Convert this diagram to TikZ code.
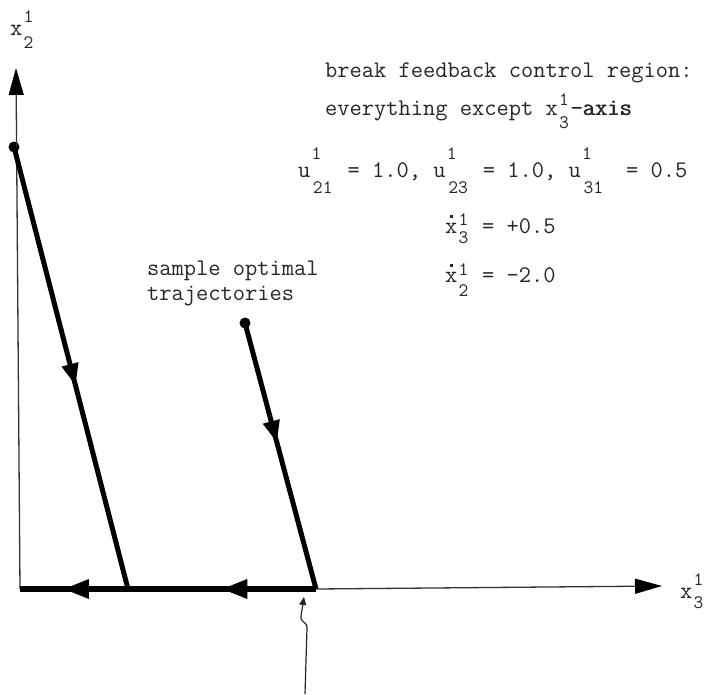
\documentclass[tikz,border=0pt]{standalone}
\usepackage{fontspec}
\usetikzlibrary{arrows.meta,decorations.markings}
\newlength\tw
\setlength\tw{12.495pt}
\newcommand\scr{\fontsize{19}{19}\selectfont}
\newcommand\ssc[5]{\makebox[0pt][l]{\makebox[\tw][c]{\raisebox{#3}{\scr #1}}}\makebox[#5\tw][c]{\raisebox{-#4}{\scr #2}}}
\newcommand\xd[1]{\makebox[0pt][l]{\hspace{5.3pt}\raisebox{#1}{\rule{2.6pt}{2.6pt}}}x}
\newcommand\fb[1]{\makebox[0pt][l]{\hspace{0.7pt}#1}#1}
\begin{document}
\begin{tikzpicture}[x=1pt,y=-1pt,
  every node/.style={inner sep=0pt,outer sep=0pt},
  txt/.style={anchor=base west,font=\fontsize{23.8}{28}\selectfont\ttfamily,text=black!85},
  axisline/.style={line width=1.3pt,draw=black!80},
  trajline/.style={line width=5pt,draw=black},
  dotnode/.style={circle,fill=black,minimum size=11pt},
  bighead/.style={-{Triangle[length=27pt,width=15pt,color=black]}},
  midarrow/.style={postaction={decorate},decoration={markings,
     mark=at position #1 with {\arrow{Triangle[length=22pt,width=16pt]}}}},
]
\useasboundingbox (0,0) rectangle (712,694);
\fill[white] (0,0) rectangle (712,694);

% coordinates
\coordinate (O) at (20,589);
\coordinate (Ytop) at (16,68);
\coordinate (Xtip) at (662,586);
\coordinate (F1) at (128,589);
\coordinate (F2) at (316,589);
\node[dotnode] (S1) at (14,147) {};
\node[dotnode] (S2) at (245,323) {};

% axes
\draw[axisline,bighead] (O) -- (Ytop);
\draw[axisline,bighead] (F2) -- (Xtip);

% trajectories
\draw[trajline,midarrow=0.54] (S1.center) -- (F1);
\draw[trajline,midarrow=0.45] (S2.center) -- (F2);
\draw[line width=6pt,postaction={decorate},decoration={markings,
   mark=at position 0.32 with {\arrow{Triangle[length=26pt,width=18pt]}},
   mark=at position 0.855 with {\arrow{Triangle[length=26pt,width=18pt]}}}]
   (F2) -- (O);

% pointer
\coordinate (P0) at (305,694);
\coordinate (P1) at (307,628);
\coordinate (P2) at (301,616);
\coordinate (Ptip) at (304,597);
\draw[line width=1.2pt,black!85,-{Triangle[length=8pt,width=7pt]}]
   (P0) -- (P1) .. controls (307,621) and (300,623) .. (P2) -- (Ptip);

% labels
\node[txt] (xlab2) at (10,35) {x\ssc{1}{2}{13pt}{13pt}{1}};
\node[txt] (xlab3) at (680,598) {x\ssc{1}{3}{13pt}{10pt}{1}};

\node[txt] (l1) at (325,77) {break feedback control region:};
\node[txt] (l2) at (325,115) {everything except x\ssc{1}{3}{10pt}{13pt}{1}\fb{-axis}};
\node[txt] (l3) at (298,177) {u\ssc{1}{21}{18pt}{16pt}{2} = 1.0, u\ssc{1}{23}{18pt}{16pt}{2} = 1.0, u\ssc{1}{31}{18pt}{16pt}{2}\hspace{8pt} = 0.5};
\node[txt] (l4) at (445,233) {\xd{15pt}\ssc{1}{3}{8pt}{10pt}{1} = +0.5};
\node[txt] (l5) at (445,282) {\xd{15pt}\ssc{1}{2}{7pt}{14pt}{1} = -2.0};
\node[txt] (l6) at (147,275) {sample optimal};
\node[txt] (l7) at (147,300) {trajectories};
\end{tikzpicture}
\end{document}
